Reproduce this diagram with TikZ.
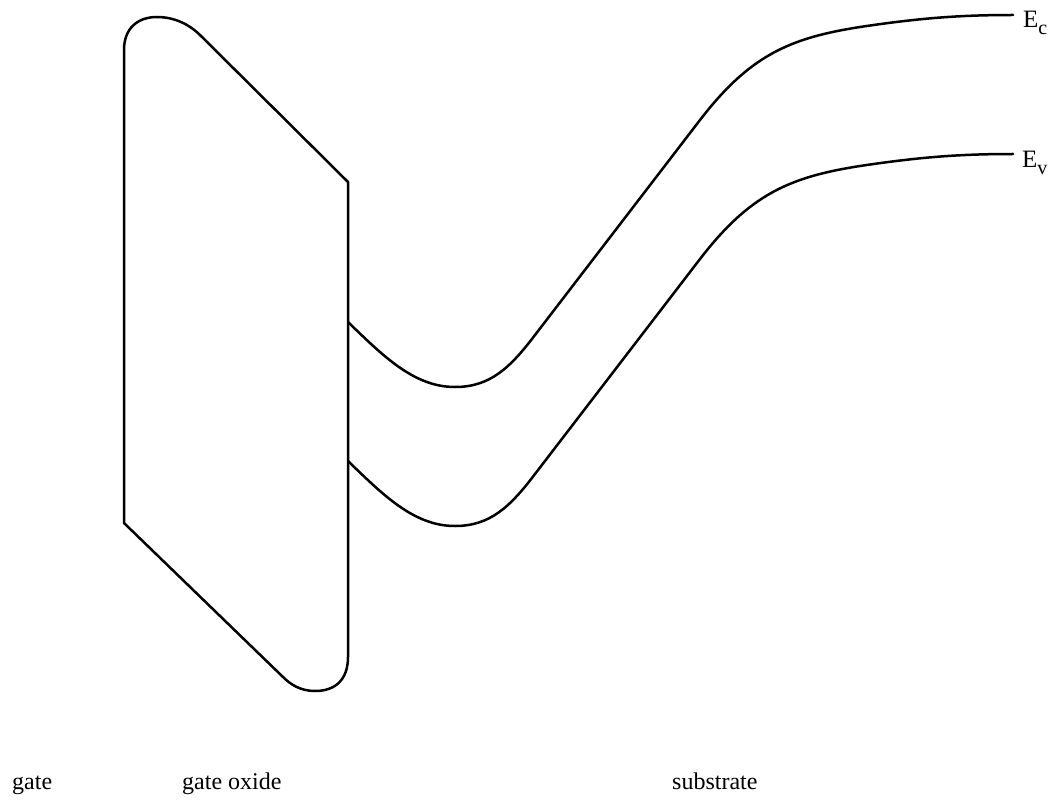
\documentclass[tikz,border=0pt]{standalone}
\usepackage{fontspec}
\setmainfont{Liberation Serif}
\begin{document}
\begin{tikzpicture}[x=1pt,y=-1pt,
  outline/.style={line width=2.5pt, line join=round, line cap=round},
  band/.style={line width=2.5pt, line join=round, line cap=round},
  lbl/.style={anchor=base west, inner sep=0pt, font=\fontsize{24}{28}\selectfont},
  elbl/.style={anchor=base west, inner sep=0pt, font=\fontsize{25}{29}\selectfont}]
\useasboundingbox (0,0) rectangle (1059,802);

% gate oxide barrier
\draw[outline] (124,523) -- (124,50)
  .. controls (124,28) and (138,17) .. (157,17)
  .. controls (175,17) and (190,25) .. (200,35)
  -- (348,182) -- (348,657)
  .. controls (348,680) and (335,691) .. (315,691)
  .. controls (300,691) and (290,684) .. (283,677)
  -- cycle;

\tikzset{bandpath/.style={insert path={
  (348,322) .. controls (385,358) and (415,387) .. (455,387)
  .. controls (490,387) and (510,368) .. (535,335)
  -- (700,120) .. controls (750,55) and (790,38) .. (860,27)
  .. controls (920,18) and (960,15) .. (1013,15)}}}

% conduction band
\draw[band, bandpath];
% valence band
\begin{scope}[yshift=-139pt]
\draw[band, bandpath];
\end{scope}

\node[elbl] (Ec) at (1023,28) {E\raisebox{-7pt}{\fontsize{20}{20}\selectfont c}};
\node[elbl] (Ev) at (1022,168) {E\raisebox{-7pt}{\fontsize{20}{20}\selectfont v}};

\node[lbl] (gate) at (12,789) {gate};
\node[lbl] (oxide) at (182,789) {gate oxide};
\node[lbl] (sub) at (672,789) {substrate};
\end{tikzpicture}
\end{document}
